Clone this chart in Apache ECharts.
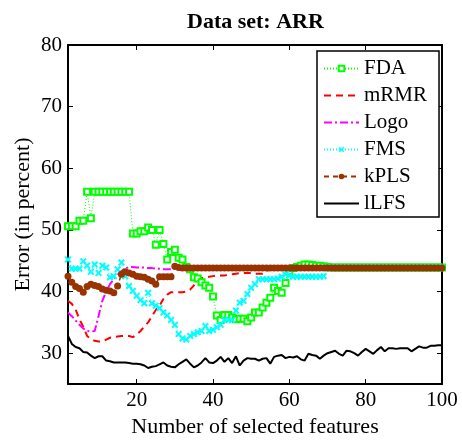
<!DOCTYPE html>
<html>
<head>
<meta charset="utf-8">
<script src="https://cdn.jsdelivr.net/npm/echarts@6/dist/echarts.min.js"></script>
<style>html,body{margin:0;padding:0;background:#fff}#c{width:462px;height:443px}</style>
</head>
<body>
<div id="c"></div>
<script>
// Number of selected features: 2..100
var features = [];
for (var i = 2; i <= 100; i++) features.push(i);

var xTicks = [20, 40, 60, 80, 100];
var yTicks = [30, 40, 50, 60, 70, 80];

var FDA = [
  50.6, 50.6, 50.6, 51.5, 51.5, 56.2, 51.9, 56.2, 56.2, 56.2,
  56.2, 56.2, 56.2, 56.2, 56.2, 56.2, 56.2, 49.4, 49.4, 49.8,
  49.8, 50.4, 50.0, 47.6, 50.0, 47.7, 45.2, 46.4, 46.8, 45.5,
  45.2, 44.0, 43.6, 42.3, 42.1, 41.5, 41.0, 40.6, 39.2, 36.1,
  35.4, 36.2, 36.2, 35.8, 35.5, 35.6, 35.6, 35.2, 35.8, 36.6,
  36.6, 37.4, 38.2, 39.0, 40.6, 40.1, 39.8, 41.4, 43.3, 43.8,
  44.0, 44.2, 44.4, 44.4, 44.3, 44.2, 44.2, 44.1, 44.0, 43.9,
  43.9, 43.9, 43.9, 43.9, 43.9, 43.9, 43.9, 43.9, 43.9, 43.9,
  43.9, 43.9, 43.9, 43.9, 43.9, 43.9, 43.9, 43.9, 43.9, 43.9,
  43.9, 43.9, 43.9, 43.9, 43.9, 43.9, 43.9, 43.9, 43.9
];
var mRMR = [
  38.5, 38.0, 37.1, 35.5, 34.3, 32.8, 32.3, 32.0, 31.9, 31.9,
  32.2, 32.5, 32.6, 32.7, 32.8, 32.8, 32.8, 32.6, 33.0, 33.6,
  34.3, 35.0, 36.0, 37.0, 37.7, 38.8, 39.5, 39.9, 39.9, 39.9,
  39.9, 40.0, 40.3, 41.0, 42.0, 42.2, 42.3, 42.4, 42.5, 42.6,
  42.6, 42.6, 42.7, 42.8, 42.9, 43.0, 43.0, 43.0, 43.0, 42.9,
  42.9, 42.9, 43.3, 43.6, 43.8, 43.8, 43.8, 43.8, 43.8, 43.8,
  43.8, 43.8, 43.8, 43.8, 43.8, 43.8, 43.8, 43.8, 43.8, 43.8,
  43.8, 43.8, 43.8, 43.8, 43.8, 43.8, 43.8, 43.8, 43.8, 43.8,
  43.8, 43.8, 43.8, 43.8, 43.8, 43.8, 43.8, 43.8, 43.8, 43.8,
  43.8, 43.8, 43.8, 43.8, 43.8, 43.8, 43.8, 43.8, 43.8
];
var Logo = [
  36.6, 36.0, 35.3, 34.6, 34.0, 33.6, 33.5, 33.6, 36.0, 38.5,
  40.0, 41.2, 42.0, 42.7, 43.3, 43.7, 44.0, 44.0, 43.9, 43.9,
  43.9, 43.8, 43.8, 43.7, 43.7, 43.6, 43.6, 43.6, 43.7, 43.8,
  43.8, 43.8, 43.8, 43.8, 43.8, 43.8, 43.8, 43.8, 43.8, 43.8,
  43.8, 43.8, 43.8, 43.8, 43.8, 43.8, 43.8, 43.8, 43.8, 43.8,
  43.8, 43.8, 43.8, 43.8, 43.8, 43.8, 43.8, 43.8, 43.8, 43.8,
  43.8, 43.8, 43.8, 43.8, 43.8, 43.8, 43.8, 43.8, 43.8, 43.8,
  43.8, 43.8, 43.8, 43.8, 43.8, 43.8, 43.8, 43.8, 43.8, 43.8,
  43.8, 43.8, 43.8, 43.8, 43.8, 43.8, 43.8, 43.8, 43.8, 43.8,
  43.8, 43.8, 43.8, 43.8, 43.8, 43.8, 43.8, 43.8, 43.8
];
var FMS = [
  45.2, 43.7, 43.7, 43.7, 44.9, 44.2, 43.2, 44.4, 43.0, 44.2,
  43.9, 42.3, 42.5, 43.6, 44.7, 42.5, 40.9, 40.1, 39.3, 38.6,
  38.1, 39.8, 38.1, 37.7, 37.3, 36.6, 36.1, 35.4, 34.6, 33.1,
  32.4, 32.2, 32.8, 33.1, 33.4, 33.6, 34.4, 33.6, 33.8, 34.2,
  34.6, 35.4, 35.4, 35.4, 36.9, 38.2, 38.5, 39.6, 40.6, 41.2,
  42.0, 42.0, 42.0, 42.0, 42.0, 42.1, 42.4, 42.8, 42.6, 42.4,
  42.4, 42.4, 42.4, 42.4, 42.4, 42.4, 42.4, 42.5, 43.9, 43.9,
  43.9, 43.9, 43.9, 43.9, 43.9, 43.9, 43.9, 43.9, 43.9, 43.9,
  43.9, 43.9, 43.9, 43.9, 43.9, 43.9, 43.9, 43.9, 43.9, 43.9,
  43.9, 43.9, 43.9, 43.9, 43.9, 43.9, 43.9, 43.9, 43.9
];
var kPLS = [
  42.5, 41.5, 40.8, 40.5, 39.9, 40.8, 41.2, 41.0, 40.8, 40.4,
  40.2, 40.1, 39.8, 40.9, 42.8, 43.2, 43.0, 42.8, 42.5, 42.4,
  42.3, 42.0, 41.7, 41.2, 42.4, 42.4, 42.4, 42.4, 44.1, 43.9,
  43.8, 43.8, 43.8, 43.8, 43.8, 43.8, 43.8, 43.8, 43.8, 43.8,
  43.8, 43.8, 43.8, 43.8, 43.8, 43.8, 43.8, 43.8, 43.8, 43.8,
  43.8, 43.8, 43.8, 43.8, 43.8, 43.8, 43.8, 43.8, 43.8, 43.8,
  43.8, 43.8, 43.8, 43.8, 43.8, 43.8, 43.8, 43.8, 43.8, 43.8,
  43.8, 43.8, 43.8, 43.8, 43.8, 43.8, 43.8, 43.8, 43.8, 43.8,
  43.8, 43.8, 43.8, 43.8, 43.8, 43.8, 43.8, 43.8, 43.8, 43.8,
  43.8, 43.8, 43.8, 43.8, 43.8, 43.8, 43.8, 43.8, 43.8
];
var lLFS = [
  32.8, 31.5, 31.0, 30.8, 30.2, 30.1, 29.6, 29.2, 29.5, 29.5,
  28.8, 28.7, 28.5, 28.5, 28.5, 28.5, 28.4, 28.3, 28.3, 28.2,
  28.0, 27.6, 27.8, 27.9, 28.2, 28.5, 28.0, 27.8, 27.7, 28.2,
  28.6, 29.0, 28.3, 27.7, 28.0, 28.5, 29.2, 28.5, 28.4, 28.8,
  29.4, 28.6, 29.2, 28.4, 29.5, 28.0, 28.8, 29.2, 29.1, 29.1,
  28.8, 29.1, 29.2, 28.3, 29.4, 29.6, 29.7, 29.2, 29.4, 29.3,
  29.5, 29.0, 28.8, 29.9, 29.7, 29.6, 29.1, 29.6, 30.0, 30.2,
  30.4, 29.9, 29.6, 30.4, 30.3, 30.0, 29.6, 30.2, 30.7, 30.3,
  29.9, 30.5, 31.0, 30.3, 30.8, 30.8, 30.7, 30.8, 30.8, 30.8,
  30.3, 30.7, 31.1, 30.9, 30.9, 31.2, 31.2, 31.3, 31.3
];

function pairs(arr) { return arr.map(function (v, i) { return [features[i], v]; }); }

var FONT = 'Liberation Serif';
var crossPath = 'path://M0,2 L2,0 L5,3 L8,0 L10,2 L7,5 L10,8 L8,10 L5,7 L2,10 L0,8 L3,5 Z';

function frameAxis(pos, min, max, ticks, showLabel, extra) {
  var a = {
    type: 'value', position: pos, min: min, max: max,
    axisLine: { show: true, onZero: false, lineStyle: { color: '#000', width: 2 } },
    axisTick: { show: true, inside: true, length: 5, customValues: ticks, lineStyle: { color: '#000', width: 1 } },
    axisLabel: { show: showLabel, customValues: ticks, fontFamily: FONT, fontSize: 21, color: '#000', margin: 6 },
    splitLine: { show: false }
  };
  for (var k in extra) a[k] = extra[k];
  return a;
}

var chart = echarts.init(document.getElementById('c'), null, { renderer: 'canvas' });
chart.setOption({
  animation: false,
  backgroundColor: '#fff',
  title: {
    text: 'Data set: ARR', left: 182, top: 6,
    textStyle: { fontFamily: FONT, fontSize: 22, fontWeight: 'bold', color: '#000' }
  },
  grid: { left: 68, right: 20, top: 45, bottom: 58, containLabel: false },
  legend: {
    orient: 'vertical', left: 317, top: 51,
    padding: [7, 12, 3, 6], itemGap: 6, itemWidth: 35, itemHeight: 7,
    backgroundColor: '#fff', borderColor: '#000', borderWidth: 1.5,
    textStyle: { fontFamily: FONT, fontSize: 21, color: '#000' },
    data: [
      { name: 'FDA' },
      { name: 'mRMR', itemStyle: { opacity: 0 } },
      { name: 'Logo', itemStyle: { opacity: 0 } },
      { name: 'FMS' },
      { name: 'kPLS' },
      { name: 'lLFS', itemStyle: { opacity: 0 } }
    ]
  },
  xAxis: [
    frameAxis('bottom', 2, 100, xTicks, true, {
      name: 'Number of selected features', nameLocation: 'middle', nameGap: 32,
      nameMoveOverlap: false,
      nameTextStyle: { fontFamily: FONT, fontSize: 22, color: '#000', verticalAlign: 'top' }
    }),
    frameAxis('top', 2, 100, xTicks, false, {})
  ],
  yAxis: [
    frameAxis('left', 25, 80, yTicks, true, {
      name: 'Error (in percent)', nameLocation: 'middle', nameGap: 34,
      nameMoveOverlap: false,
      nameTextStyle: { fontFamily: FONT, fontSize: 22, color: '#000' }
    }),
    frameAxis('right', 25, 80, yTicks, false, {})
  ],
  series: [
    { name: 'FDA', type: 'line', data: pairs(FDA), showAllSymbol: true,
      symbol: 'rect', symbolSize: 6,
      lineStyle: { color: '#00ff00', width: 1, type: [1, 2] },
      itemStyle: { color: '#ffffff', borderColor: '#00ff00', borderWidth: 2 } },
    { name: 'mRMR', type: 'line', data: pairs(mRMR), showSymbol: false, symbol: 'none',
      lineStyle: { color: '#ff0000', width: 2, type: [7, 5] },
      itemStyle: { color: '#ff0000' } },
    { name: 'Logo', type: 'line', data: pairs(Logo), showSymbol: false, symbol: 'none',
      lineStyle: { color: '#ff00ff', width: 2, type: [8, 3, 2, 3] },
      itemStyle: { color: '#ff00ff' } },
    { name: 'FMS', type: 'line', data: pairs(FMS), showAllSymbol: true,
      symbol: crossPath, symbolSize: 7,
      lineStyle: { color: '#00ffff', width: 1, type: [1, 2] },
      itemStyle: { color: '#00ffff' } },
    { name: 'kPLS', type: 'line', data: pairs(kPLS), showAllSymbol: true,
      symbol: 'circle', symbolSize: 7,
      lineStyle: { color: '#993300', width: 1.5, type: [5, 4] },
      itemStyle: { color: '#993300' } },
    { name: 'lLFS', type: 'line', data: pairs(lLFS), showSymbol: false, symbol: 'none',
      lineStyle: { color: '#000000', width: 2 },
      itemStyle: { color: '#000000' } }
  ]
});
</script>
</body>
</html>
